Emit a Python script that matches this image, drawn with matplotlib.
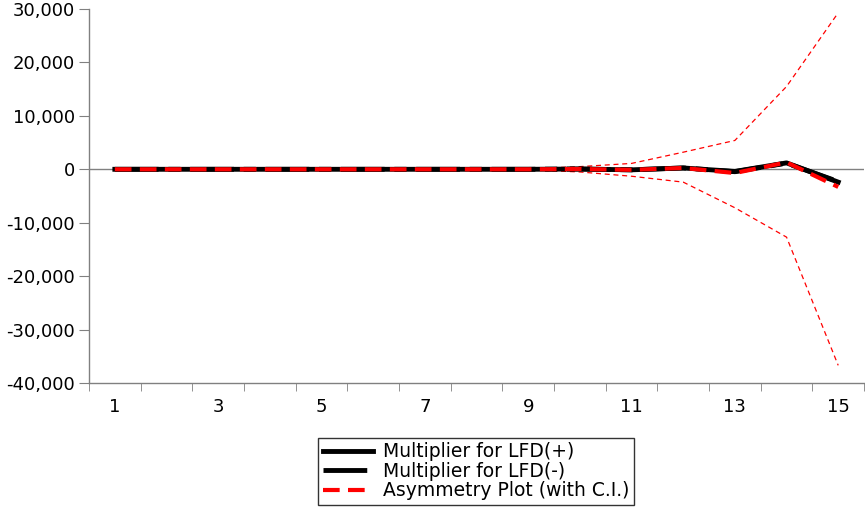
import numpy as np
import matplotlib
matplotlib.use('Agg')
from matplotlib import pyplot as plt
import matplotlib.ticker as ticker

plt.rcParams['font.family'] = ['DejaVu Sans']

periods = np.arange(1, 16)
lfd_pos = [0, 0, 0, 0, 0, 0, 0, 0, 0, 50, -100, 250, -400, 1200, -2400]
lfd_neg = [0, 0, 0, 0, 0, 0, 0, 0, 0, 50, -100, 250, -450, 1150, -2300]
asym = [0, 0, 0, 0, 0, 0, 0, 0, 0, 50, -100, 250, -700, 1300, -3300]
ci_upper = [0, 0, 0, 0, 0, 0, 0, 0, 100, 500, 1100, 3200, 5400, 15500, 29300]
ci_lower = [0, 0, 0, 0, 0, 0, 0, 0, -100, -500, -1300, -2400, -7200, -12700, -36700]

fig = plt.figure(figsize=(8.65, 5.07), dpi=100)
ax = fig.add_axes([0.1029, 0.2446, 0.8960, 0.7376])

grey = '#808080'
ax.axhline(0, color=grey, linewidth=1, zorder=1)

ax.plot(periods, ci_upper, color='#ff0000', linestyle=(0, (4, 3)), linewidth=0.9, zorder=2)
ax.plot(periods, ci_lower, color='#ff0000', linestyle=(0, (4, 3)), linewidth=0.9, zorder=2)
l1, = ax.plot(periods, lfd_pos, color='black', linestyle='-', linewidth=3.5, zorder=3,
              label='Multiplier for LFD(+)')
l2, = ax.plot(periods, lfd_neg, color='black', linestyle=(0, (9, 2, 2.5, 2)), linewidth=3.5, zorder=3,
              label='Multiplier for LFD(-)')
l3, = ax.plot(periods, asym, color='#ff0000', linestyle=(0, (4, 2)), linewidth=3, zorder=4,
              label='Asymmetry Plot (with C.I.)')

ax.set_xlim(0.5, 15.5)
ax.set_ylim(-40000, 30000)

ax.xaxis.set_major_locator(ticker.FixedLocator(np.arange(1, 16, 2)))
ax.xaxis.set_minor_locator(ticker.FixedLocator(np.arange(0.5, 16, 1)))
ax.tick_params(axis='x', which='major', length=0, pad=11, labelsize=13)
ax.tick_params(axis='x', which='minor', length=6, color=grey, direction='out')
ax.yaxis.set_major_locator(ticker.MultipleLocator(10000))
ax.yaxis.set_major_formatter(ticker.FuncFormatter(lambda v, p: f'{int(v):,}'))
ax.tick_params(axis='y', length=7, color=grey, direction='out', labelsize=13, pad=3)

for side in ['top', 'right']:
    ax.spines[side].set_visible(False)
for side in ['left', 'bottom']:
    ax.spines[side].set_color(grey)
    ax.spines[side].set_linewidth(1)

leg = fig.legend(handles=[l1, l2, l3], loc='lower center', bbox_to_anchor=(0.55, 0.0),
                 fontsize=13.5, frameon=True, fancybox=False, edgecolor='black',
                 handlelength=2.7, handletextpad=0.5, borderpad=0.25, labelspacing=0.03,
                 borderaxespad=0.1)
leg.get_frame().set_linewidth(1)

plt.savefig('out.png', dpi=100)
